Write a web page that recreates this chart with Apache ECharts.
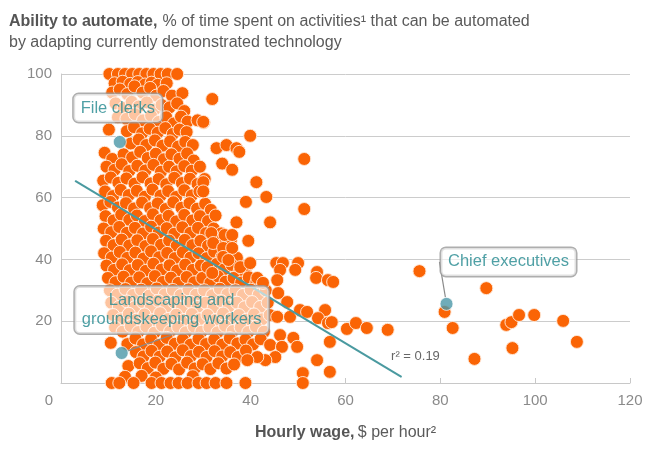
<!DOCTYPE html>
<html>
<head>
<meta charset="utf-8">
<script src="https://cdn.jsdelivr.net/npm/echarts@6/dist/echarts.min.js"></script>
<style>html,body{margin:0;padding:0;background:#fff}#c{width:663px;height:450px}</style>
</head>
<body>
<div id="c"></div>
<script>
// Tick labels
const xTicks = [0, 20, 40, 60, 80, 100, 120];
const yTicks = [0, 20, 40, 60, 80, 100];

// Dense cluster of occupations: [hourly wage $, % automatable]
const clusterPoints = [
  [10.2,100],[12.0,100],[13.5,100],[15.0,100],[16.5,100],[18.0,100],[19.5,100],[21.0,100],[22.5,100],[24.5,100],
  [11.3,97],[13.0,97.5],[14.6,96.8],[16.2,97.4],[17.7,96.6],[19.1,97.2],[20.4,96.5],[22.3,97],
  [10.8,94],[12.4,95],[14.0,93.5],[15.5,96],[17.2,94],[18.8,95.5],[20.1,93],[21.6,94.5],[23.4,93],[25.6,93.8],
  [11.5,90.5],[13.2,89],[14.9,91],[16.4,89.5],[18.1,90.8],[19.7,88.5],[21.2,90],[22.9,89.2],[24.5,90.5],[26.0,88],
  [12.0,86],[13.8,85.5],[15.6,87],[17.3,85],[19.0,86.5],[20.6,84.5],[22.2,86],[23.8,84],[25.3,86.2],[26.7,84.6],[28.8,85],[30.1,84.3],
  [10.1,82],[13.9,81.5],[15.4,82.8],[17.1,80.8],[18.7,82.3],[20.4,81],[22.0,82.5],[23.6,80.6],[25.0,82],[26.5,81.2],
  [14.7,77.5],[16.4,78.8],[18.0,77],[19.8,78.5],[21.4,76.8],[23.0,78.2],[24.7,76.5],[26.2,78],[27.8,77],
  [9.2,74.5],[10.8,72.5],[13.2,74],[15.0,73],[16.7,74.8],[18.3,72.8],[20.0,74.2],[21.7,72.4],[23.3,74],[25.0,72.6],[26.6,74.3],[28.0,72],
  [9.6,70],[11.3,69],[12.8,70.8],[14.4,68.6],[16.1,70.3],[17.8,68.8],[19.5,70.6],[21.1,68.4],[22.8,70],[24.4,68.5],[26.0,70.2],[27.6,68.7],[29.3,70],
  [8.9,65.5],[10.5,66.5],[12.1,64.8],[13.8,66.2],[15.5,64.5],[17.2,66.6],[18.9,64.6],[20.6,66],[22.2,64.3],[23.9,66.4],[25.5,64.7],[27.2,66.1],[28.8,64.4],
  [9.3,62],[11.0,60.5],[12.6,62.5],[14.3,60.8],[16.0,62.2],[17.7,60.3],[19.3,62.6],[21.0,60.6],[22.6,62.1],[24.3,60.2],[26.0,62.4],[27.6,60.7],[29.2,62],
  [8.8,57.5],[10.4,58.6],[12.0,56.8],[13.7,58.2],[15.4,56.5],[17.1,58.4],[18.8,56.6],[20.4,58.1],[22.1,56.3],[23.7,58.5],[25.4,56.7],[27.1,58.2],[28.7,56.4],[30.4,58],[31.6,56],
  [9.4,54],[11.1,52.6],[12.7,54.5],[14.4,52.8],[16.0,54.2],[17.7,52.4],[19.4,54.6],[21.0,52.7],[22.7,54.1],[24.3,52.3],[26.0,54.4],[27.7,52.6],[29.3,54],[31.0,52.4],[32.6,54.2],
  [9.0,50],[10.6,48.8],[12.3,50.5],[13.9,48.6],[15.6,50.2],[17.3,48.4],[19.0,50.6],[20.6,48.7],[22.3,50.1],[23.9,48.3],[25.6,50.4],[27.3,48.6],[28.9,50.2],[30.6,48.5],[32.2,50],[33.8,48.4],
  [9.5,46],[11.1,44.6],[12.8,46.4],[14.4,44.5],[16.1,46.2],[17.8,44.3],[19.4,46.6],[21.1,44.7],[22.8,46.1],[24.4,44.4],[26.1,46.3],[27.7,44.6],[29.4,46],[31.0,44.4],[32.7,46.5],[34.3,44.8],[35.8,46],
  [9.1,42],[10.7,40.6],[12.4,42.4],[14.0,40.5],[15.7,42.2],[17.4,40.3],[19.0,42.6],[20.7,40.7],[22.4,42.1],[24.0,40.4],[25.7,42.3],[27.3,40.6],[29.0,42],[30.7,40.4],[32.3,42.5],[33.9,40.8],[35.6,42],[37.1,40.5],
  [9.6,38],[11.2,36.6],[12.9,38.4],[14.5,36.5],[16.2,38.2],[17.9,36.3],[19.5,38.6],[21.2,36.7],[22.9,38.1],[24.5,36.4],[26.2,38.3],[27.8,36.6],[29.5,38],[31.2,36.4],[32.8,38.5],[34.4,36.8],[36.0,38.2],[37.7,36.5],[39.2,38],
  [9.9,34],[11.5,32.6],[13.2,34.4],[14.8,32.5],[16.5,34.2],[18.2,32.3],[19.8,34.6],[21.5,32.7],[23.2,34.1],[24.8,32.4],[26.5,34.3],[28.1,32.6],[29.8,34],[31.5,32.4],[33.1,34.5],[34.7,32.8],[36.4,34],[38.0,32.5],[39.6,34.2],[41.2,32.6],
  [10.3,30],[11.9,28.6],[13.6,30.4],[15.2,28.5],[16.9,30.2],[18.6,28.3],[20.2,30.6],[21.9,28.7],[23.6,30.1],[25.2,28.4],[26.9,30.3],[28.5,28.6],[30.2,30],[31.9,28.4],[33.5,30.5],[35.1,28.8],[36.8,30],[38.4,28.5],[40.0,30.2],[41.7,28.6],[43.2,30],
  [10.6,26],[12.2,24.6],[13.9,26.4],[15.5,24.5],[17.2,26.2],[18.9,24.3],[20.5,26.6],[22.2,24.7],[23.9,26.1],[25.5,24.4],[27.2,26.3],[28.8,24.6],[30.5,26],[32.2,24.4],[33.8,26.5],[35.4,24.8],[37.1,26],[38.7,24.5],[40.3,26.2],[42.0,24.6],[43.6,26],
  [11.0,22],[12.6,20.6],[14.3,22.4],[15.9,20.5],[17.6,22.2],[19.3,20.3],[20.9,22.6],[22.6,20.7],[24.3,22.1],[25.9,20.4],[27.6,22.3],[29.2,20.6],[30.9,22],[32.6,20.4],[34.2,22.5],[35.8,20.8],[37.5,22],[39.1,20.5],[40.7,22.2],[42.4,20.6],[44.0,22],
  [11.4,18],[13.0,16.6],[14.7,18.4],[16.3,16.5],[18.0,18.2],[19.7,16.3],[21.3,18.6],[23.0,16.7],[24.7,18.1],[26.3,16.4],[28.0,18.3],[29.6,16.6],[31.3,18],[33.0,16.4],[34.6,18.5],[36.2,16.8],[37.9,18],[39.5,16.5],[41.1,18.2],[42.8,16.6],
  [10.5,13],[14.0,12.6],[15.7,14.4],[17.3,12.5],[19.0,14.2],[20.7,12.3],[22.3,14.6],[24.0,12.7],[25.7,14.1],[27.3,12.4],[29.0,14.3],[30.6,12.6],[32.3,14],[34.0,12.4],[35.6,14.5],[37.2,12.8],[38.9,14],[40.5,12.5],[42.1,14.2],
  [15.8,10],[17.4,8.6],[19.1,10.4],[20.8,8.5],[22.4,10.2],[24.1,8.3],[25.7,10.6],[27.4,8.7],[29.1,10.1],[30.7,8.4],[32.4,10.3],[34.0,8.6],[35.7,10],[37.3,8.4],[39.0,10.5],
  [14.2,5.5],[16.6,6.4],[18.3,4.8],[19.9,6.6],[21.6,4.6],[23.3,6.2],[24.9,4.4],[26.6,6.6],[28.2,4.7],[29.9,6.1],[31.5,4.5],[33.2,6.4],[34.9,4.7],[36.5,6],
  [13.5,2],[17.0,2.3],[20.0,1.8],[27.8,2.2],
  [10.7,0],[12.3,0],[15.3,0],[19.1,0],[21.2,0],[23.1,0],[24.8,0],[26.7,0],[29.0,0],[30.7,0],[32.6,0],[34.9,0],[38.9,0]
];

// Scattered occupations away from the main cluster
const outlierPoints = [
  [31.9,91.9],[30.0,84.5],[39.9,80],[32.8,76],[34.9,77],[37.0,76],[37.6,74.8],[51.3,72.5],[34.0,71],[36.1,69],
  [30.3,66],[30.0,65],[30.0,62],[41.2,65],[39.0,58.6],[43.3,60.2],[51.3,56.3],[37.0,52],[44.1,52],
  [31.7,48.5],[34.5,47.9],[36.1,47.9],[32.1,45.3],[39.5,46],[34.2,43.7],[36.1,43.7],[34.2,40.8],[35.3,39.8],
  [37.8,37.5],[39.9,38.8],[45.4,38.8],[46.8,38.8],[46.2,36.6],[50.0,38.8],[49.4,36.6],[54.0,35.9],[53.8,34],
  [56.3,33.3],[57.4,32.7],[45.6,33.3],[30.9,37.5],[31.9,35.6],[41.4,34],[42.6,32.4],[45.8,29.1],[47.7,26.2],
  [45.6,21.4],[48.3,21.4],[50.4,23.6],[51.9,23],[55.7,23.6],[54.2,21],[56.3,19.4],[57.1,19.7],
  [46.2,15.5],[44.1,12.3],[46.6,11.7],[49.0,14.6],[49.8,11.7],[56.7,13.3],[54.0,7.4],[56.7,3.6],[51.0,3.2],[51.0,0],
  [45.2,8.4],[43.1,7.4],[41.4,8.4],[39.3,7.4],[60.3,17.5],[62.2,19.4],[64.5,17.8],[68.9,17.2],
  [75.6,36.2],[89.7,30.7],[80.9,23],[82.6,17.8],[87.2,7.8],[93.9,18.8],[95.0,19.7],[96.6,22],[99.8,22],
  [105.9,20.1],[95.2,11.3],[108.8,13.3]
];

// Highlighted occupations
const highlightNames = ['File clerks', 'Chief executives', 'Landscaping and\ngroundskeeping workers'];
const highlightWages = [12.4, 81.3, 12.8];
const highlightShares = [78, 25.6, 9.7];

// Regression line endpoints and fit
const trendWages = [3, 71.8];
const trendShares = [65.4, 2];
const rSquared = '0.19';

const FONT = 'Liberation Sans, Arial, sans-serif';
const TEAL_TEXT = '#23888f';
const labelOffsets = [[-2, -34], [62, -42], [50, -43]];

const chart = echarts.init(document.getElementById('c'), null, {renderer: 'canvas'});

chart.setOption({
  animation: false,
  backgroundColor: '#fff',
  textStyle: {fontFamily: FONT},
  title: {
    left: 4, top: 6,
    text: '{b|Ability to automate,} {n|% of time spent on activities\u00b9 that can be automated}\n{n|by adapting currently demonstrated technology}',
    textStyle: {
      fontWeight: 'normal',
      rich: {
        b: {fontFamily: FONT, fontSize: 16, fontWeight: 'bold', color: '#555', lineHeight: 21},
        n: {fontFamily: FONT, fontSize: 16, fontWeight: 'normal', color: '#5a5a5a', lineHeight: 21}
      }
    }
  },
  grid: {left: 61, right: 33, top: 74, bottom: 67},
  xAxis: {
    type: 'value', min: xTicks[0], max: xTicks[xTicks.length - 1], interval: 20,
    name: '{b|Hourly wage,} {n|$ per hour\u00b2}',
    nameLocation: 'middle', nameGap: 42,
    nameTextStyle: {
      fontWeight: 'normal',
      rich: {
        b: {fontFamily: FONT, fontSize: 16, fontWeight: 'bold', color: '#555'},
        n: {fontFamily: FONT, fontSize: 16, fontWeight: 'normal', color: '#5a5a5a'}
      }
    },
    axisLine: {show: true, lineStyle: {color: '#c8c8c8', width: 1}},
    axisTick: {show: true, inside: true, length: 5, lineStyle: {color: '#c8c8c8'}},
    splitLine: {show: false},
    axisLabel: {
      color: '#8a8a8a', fontSize: 15, margin: 10, fontFamily: FONT,
      formatter: v => v === 0 ? '{z|0}' : String(v),
      rich: {z: {color: '#8a8a8a', fontSize: 15, fontFamily: FONT, padding: [0, 24, 0, 0]}}
    }
  },
  yAxis: {
    type: 'value', min: yTicks[0], max: yTicks[yTicks.length - 1], interval: 20,
    axisLine: {show: true, lineStyle: {color: '#c8c8c8', width: 1}},
    axisTick: {show: false},
    splitLine: {show: true, lineStyle: {color: '#cccccc', width: 1}},
    axisLabel: {
      color: '#8a8a8a', fontSize: 15, margin: 9, fontFamily: FONT,
      formatter: v => v === 0 ? '' : String(v)
    }
  },
  series: [
    {
      type: 'scatter', name: 'cluster', z: 2,
      data: clusterPoints.concat(outlierPoints),
      symbolSize: 13,
      itemStyle: {color: '#fa6405', borderColor: 'rgba(255,232,215,0.95)', borderWidth: 1, opacity: 1},
      emphasis: {disabled: true}
    },
    {
      type: 'line', name: 'trend', z: 3,
      data: trendWages.map((w, i) => i === trendWages.length - 1 ? {
        value: [w, trendShares[i]],
        label: {
          show: true, position: 'top', distance: 5, offset: [14, -8],
          formatter: 'r\u00b2 = ' + rSquared,
          color: '#666', fontSize: 13, fontFamily: FONT
        }
      } : [w, trendShares[i]]),
      symbol: 'circle', symbolSize: 1, showSymbol: true,
      itemStyle: {color: '#4a9aa0'},
      lineStyle: {color: '#4a9aa0', width: 2},
      emphasis: {disabled: true}
    },
    {
      type: 'scatter', name: 'highlight', z: 5,
      data: highlightNames.map((n, i) => ({
        name: n, value: [highlightWages[i], highlightShares[i]],
        labelLine: {show: i !== 0}
      })),
      symbolSize: 13,
      itemStyle: {color: '#4b97a7', borderColor: 'rgba(255,255,255,0.9)', borderWidth: 1},
      label: {
        show: true, position: 'inside', formatter: '{b}',
        color: TEAL_TEXT, fontSize: 16.5, fontFamily: FONT, lineHeight: 19,
        backgroundColor: 'rgba(255,255,255,0.78)', borderColor: '#9a9a9a', borderWidth: 1.5,
        borderRadius: 5, padding: [5, 7, 4, 7]
      },
      labelLine: {show: true, lineStyle: {color: '#8a8a8a', width: 1.2}},
      labelLayout: p => ({dx: labelOffsets[p.dataIndex][0], dy: labelOffsets[p.dataIndex][1]}),
      emphasis: {disabled: true}
    }
  ]
});
</script>
</body>
</html>
